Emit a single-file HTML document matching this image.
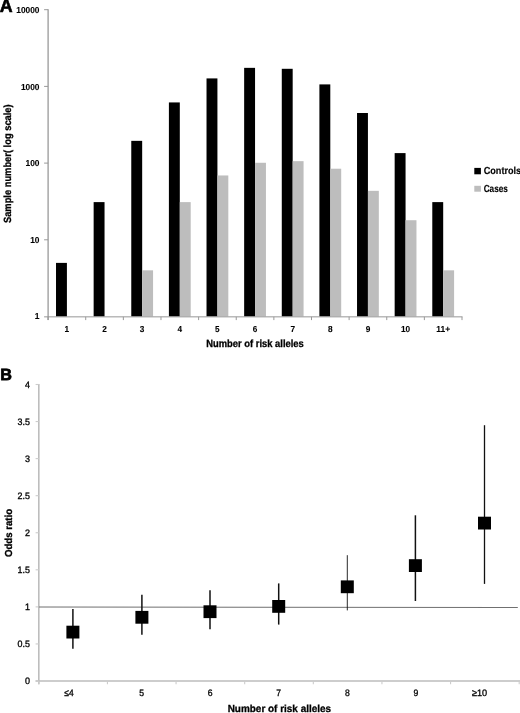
<!DOCTYPE html>
<html lang="en">
<head>
<meta charset="utf-8">
<title>Risk alleles figure</title>
<style>
html,body{margin:0;padding:0;background:#fff;}
body{width:520px;height:713px;overflow:hidden;}
svg{display:block;}
text{font-family:"Liberation Sans",Arial,sans-serif;fill:#000;text-rendering:geometricPrecision;}
.ta{font-size:8.7px;font-weight:bold;stroke:#000;stroke-width:0.1px;}
.tb{font-size:9.4px;stroke:#000;stroke-width:0.32px;}
.tt{font-size:10.4px;font-weight:bold;stroke:#000;stroke-width:0.3px;}
.tt2{font-size:10.2px;font-weight:bold;stroke:#000;stroke-width:0.3px;}
.tl{font-size:10.2px;font-weight:bold;stroke:#000;stroke-width:0.15px;}
.pl{font-size:16.5px;font-weight:bold;stroke:#000;stroke-width:0.9px;stroke-linejoin:round;}
</style>
</head>
<body>
<svg width="520" height="713" viewBox="0 0 520 713">
<rect x="0" y="0" width="520" height="713" fill="#fff"/>
<g id="panelA">
<rect x="56.01" y="262.89" width="10.90" height="53.61" fill="#000"/>
<rect x="93.64" y="202.11" width="10.90" height="114.39" fill="#000"/>
<rect x="131.27" y="140.85" width="10.90" height="175.65" fill="#000"/>
<rect x="142.17" y="270.32" width="10.90" height="46.18" fill="#bdbdbd"/>
<rect x="168.90" y="102.43" width="10.90" height="214.07" fill="#000"/>
<rect x="179.80" y="202.11" width="10.90" height="114.39" fill="#bdbdbd"/>
<rect x="206.52" y="78.41" width="10.90" height="238.09" fill="#000"/>
<rect x="217.42" y="175.46" width="10.90" height="141.04" fill="#bdbdbd"/>
<rect x="244.15" y="67.85" width="10.90" height="248.65" fill="#000"/>
<rect x="255.05" y="162.77" width="10.90" height="153.73" fill="#bdbdbd"/>
<rect x="281.78" y="68.80" width="10.90" height="247.70" fill="#000"/>
<rect x="292.68" y="161.16" width="10.90" height="155.34" fill="#bdbdbd"/>
<rect x="319.40" y="84.40" width="10.90" height="232.10" fill="#000"/>
<rect x="330.30" y="168.71" width="10.90" height="147.79" fill="#bdbdbd"/>
<rect x="357.03" y="113.00" width="10.90" height="203.50" fill="#000"/>
<rect x="367.93" y="190.83" width="10.90" height="125.67" fill="#bdbdbd"/>
<rect x="394.66" y="153.10" width="10.90" height="163.40" fill="#000"/>
<rect x="405.56" y="220.22" width="10.90" height="96.28" fill="#bdbdbd"/>
<rect x="432.29" y="202.11" width="10.90" height="114.39" fill="#000"/>
<rect x="443.19" y="270.32" width="10.90" height="46.18" fill="#bdbdbd"/>
<path d="M48.1 9.2 V320.1" stroke="#999" stroke-width="1.3" fill="none"/>
<path d="M44.1 316.85 H462.5" stroke="#969696" stroke-width="1.0" fill="none"/>
<path d="M44.1 239.80 H48.1" stroke="#999" stroke-width="1"/>
<path d="M44.1 163.10 H48.1" stroke="#999" stroke-width="1"/>
<path d="M44.1 86.40 H48.1" stroke="#999" stroke-width="1"/>
<path d="M44.1 9.70 H48.1" stroke="#999" stroke-width="1"/>
<path d="M48.10 316.8 V320.1" stroke="#999" stroke-width="1"/>
<path d="M85.73 316.8 V320.1" stroke="#999" stroke-width="1"/>
<path d="M123.35 316.8 V320.1" stroke="#999" stroke-width="1"/>
<path d="M160.98 316.8 V320.1" stroke="#999" stroke-width="1"/>
<path d="M198.61 316.8 V320.1" stroke="#999" stroke-width="1"/>
<path d="M236.24 316.8 V320.1" stroke="#999" stroke-width="1"/>
<path d="M273.86 316.8 V320.1" stroke="#999" stroke-width="1"/>
<path d="M311.49 316.8 V320.1" stroke="#999" stroke-width="1"/>
<path d="M349.12 316.8 V320.1" stroke="#999" stroke-width="1"/>
<path d="M386.75 316.8 V320.1" stroke="#999" stroke-width="1"/>
<path d="M424.37 316.8 V320.1" stroke="#999" stroke-width="1"/>
<path d="M462.00 316.8 V320.1" stroke="#999" stroke-width="1"/>
<text class="ta" x="39.5" y="319.25" text-anchor="end" textLength="4.7" lengthAdjust="spacingAndGlyphs">1</text>
<text class="ta" x="39.5" y="242.90" text-anchor="end" textLength="9.3" lengthAdjust="spacingAndGlyphs">10</text>
<text class="ta" x="39.5" y="166.20" text-anchor="end" textLength="14.0" lengthAdjust="spacingAndGlyphs">100</text>
<text class="ta" x="39.5" y="89.50" text-anchor="end" textLength="18.6" lengthAdjust="spacingAndGlyphs">1000</text>
<text class="ta" x="39.5" y="12.80" text-anchor="end" textLength="23.2" lengthAdjust="spacingAndGlyphs">10000</text>
<text class="ta" x="66.91" y="331.9" text-anchor="middle" textLength="4.6" lengthAdjust="spacingAndGlyphs">1</text>
<text class="ta" x="104.54" y="331.9" text-anchor="middle" textLength="4.6" lengthAdjust="spacingAndGlyphs">2</text>
<text class="ta" x="142.17" y="331.9" text-anchor="middle" textLength="4.6" lengthAdjust="spacingAndGlyphs">3</text>
<text class="ta" x="179.80" y="331.9" text-anchor="middle" textLength="4.6" lengthAdjust="spacingAndGlyphs">4</text>
<text class="ta" x="217.42" y="331.9" text-anchor="middle" textLength="4.6" lengthAdjust="spacingAndGlyphs">5</text>
<text class="ta" x="255.05" y="331.9" text-anchor="middle" textLength="4.6" lengthAdjust="spacingAndGlyphs">6</text>
<text class="ta" x="292.68" y="331.9" text-anchor="middle" textLength="4.6" lengthAdjust="spacingAndGlyphs">7</text>
<text class="ta" x="330.30" y="331.9" text-anchor="middle" textLength="4.6" lengthAdjust="spacingAndGlyphs">8</text>
<text class="ta" x="367.93" y="331.9" text-anchor="middle" textLength="4.6" lengthAdjust="spacingAndGlyphs">9</text>
<text class="ta" x="405.56" y="331.9" text-anchor="middle" textLength="9.2" lengthAdjust="spacingAndGlyphs">10</text>
<text class="ta" x="443.19" y="331.9" text-anchor="middle" textLength="13.8" lengthAdjust="spacingAndGlyphs">11+</text>
<text class="tt" x="255" y="347" text-anchor="middle" textLength="97.5" lengthAdjust="spacingAndGlyphs">Number of risk alleles</text>
<text class="tt" transform="translate(11.0 163.7) rotate(-90)" text-anchor="middle" textLength="118.7" lengthAdjust="spacingAndGlyphs">Sample number( log scale)</text>
<rect x="474.3" y="167.9" width="6.6" height="6.4" fill="#000"/>
<rect x="474.3" y="185.8" width="6.6" height="5.9" fill="#bdbdbd"/>
<text class="tl" x="483.7" y="174.2" textLength="37.5" lengthAdjust="spacingAndGlyphs">Controls</text>
<text class="tl" x="483.7" y="191.5" textLength="24.2" lengthAdjust="spacingAndGlyphs">Cases</text>
<text class="pl" x="-0.25" y="12.15" textLength="12.9" lengthAdjust="spacingAndGlyphs" style="font-size:18.5px;stroke-width:0.65px">A</text>
</g>
<g id="panelB">
<path d="M38.8 384.0 V684.2" stroke="#bdbdbd" stroke-width="1.6" fill="none"/>
<path d="M35.599999999999994 681.0 H520" stroke="#bdbdbd" stroke-width="1.6" fill="none"/>
<path d="M35.599999999999994 681.00 H38.8" stroke="#cccccc" stroke-width="1.1"/>
<text class="tb" x="30" y="684.45" text-anchor="end" textLength="5.0" lengthAdjust="spacingAndGlyphs">0</text>
<path d="M35.599999999999994 643.94 H38.8" stroke="#cccccc" stroke-width="1.1"/>
<text class="tb" x="30" y="647.39" text-anchor="end" textLength="12.4" lengthAdjust="spacingAndGlyphs">0.5</text>
<path d="M35.599999999999994 606.88 H38.8" stroke="#cccccc" stroke-width="1.1"/>
<text class="tb" x="30" y="610.33" text-anchor="end" textLength="5.0" lengthAdjust="spacingAndGlyphs">1</text>
<path d="M35.599999999999994 569.81 H38.8" stroke="#cccccc" stroke-width="1.1"/>
<text class="tb" x="30" y="573.26" text-anchor="end" textLength="12.4" lengthAdjust="spacingAndGlyphs">1.5</text>
<path d="M35.599999999999994 532.75 H38.8" stroke="#cccccc" stroke-width="1.1"/>
<text class="tb" x="30" y="536.20" text-anchor="end" textLength="5.0" lengthAdjust="spacingAndGlyphs">2</text>
<path d="M35.599999999999994 495.69 H38.8" stroke="#cccccc" stroke-width="1.1"/>
<text class="tb" x="30" y="499.14" text-anchor="end" textLength="12.4" lengthAdjust="spacingAndGlyphs">2.5</text>
<path d="M35.599999999999994 458.62 H38.8" stroke="#cccccc" stroke-width="1.1"/>
<text class="tb" x="30" y="462.07" text-anchor="end" textLength="5.0" lengthAdjust="spacingAndGlyphs">3</text>
<path d="M35.599999999999994 421.56 H38.8" stroke="#cccccc" stroke-width="1.1"/>
<text class="tb" x="30" y="425.01" text-anchor="end" textLength="12.4" lengthAdjust="spacingAndGlyphs">3.5</text>
<path d="M35.599999999999994 384.50 H38.8" stroke="#cccccc" stroke-width="1.1"/>
<text class="tb" x="30" y="387.95" text-anchor="end" textLength="5.0" lengthAdjust="spacingAndGlyphs">4</text>
<path d="M38.80 681.0 V684.2" stroke="#cccccc" stroke-width="1.1"/>
<path d="M107.43 681.0 V684.2" stroke="#cccccc" stroke-width="1.1"/>
<path d="M176.06 681.0 V684.2" stroke="#cccccc" stroke-width="1.1"/>
<path d="M244.69 681.0 V684.2" stroke="#cccccc" stroke-width="1.1"/>
<path d="M313.31 681.0 V684.2" stroke="#cccccc" stroke-width="1.1"/>
<path d="M381.94 681.0 V684.2" stroke="#cccccc" stroke-width="1.1"/>
<path d="M450.57 681.0 V684.2" stroke="#cccccc" stroke-width="1.1"/>
<path d="M519.20 681.0 V684.2" stroke="#cccccc" stroke-width="1.1"/>
<path d="M38.8 606.95 L517.8 607.45" stroke="#707070" stroke-width="1.05"/>
<path d="M72.9 609.1 V648.7" stroke="#111" stroke-width="1.5"/>
<rect x="66.40" y="625.70" width="13" height="12.8" fill="#000"/>
<path d="M141.9 594.8 V634.7" stroke="#111" stroke-width="1.5"/>
<rect x="135.40" y="610.90" width="13" height="12.8" fill="#000"/>
<path d="M210.0 590.2 V629.2" stroke="#111" stroke-width="1.5"/>
<rect x="203.50" y="605.30" width="13" height="12.8" fill="#000"/>
<path d="M278.7 583.4 V624.6" stroke="#111" stroke-width="1.5"/>
<rect x="272.20" y="600.00" width="13" height="12.8" fill="#000"/>
<path d="M347.3 555.2 V610.4" stroke="#111" stroke-width="0.9"/>
<rect x="340.80" y="580.40" width="13" height="12.8" fill="#000"/>
<path d="M415.4 515.3 V601.0" stroke="#111" stroke-width="1.5"/>
<rect x="408.90" y="559.20" width="13" height="12.8" fill="#000"/>
<path d="M484.5 425.2 V583.9" stroke="#111" stroke-width="1.3"/>
<rect x="478.00" y="516.70" width="13" height="12.8" fill="#000"/>
<text class="tb" x="69.0" y="696.45" text-anchor="middle" textLength="9.3" lengthAdjust="spacingAndGlyphs">≤4</text>
<text class="tb" x="141.7" y="696.45" text-anchor="middle" textLength="4.8" lengthAdjust="spacingAndGlyphs">5</text>
<text class="tb" x="210.2" y="696.45" text-anchor="middle" textLength="4.8" lengthAdjust="spacingAndGlyphs">6</text>
<text class="tb" x="278.6" y="696.45" text-anchor="middle" textLength="4.8" lengthAdjust="spacingAndGlyphs">7</text>
<text class="tb" x="347.3" y="696.45" text-anchor="middle" textLength="4.8" lengthAdjust="spacingAndGlyphs">8</text>
<text class="tb" x="416.0" y="696.45" text-anchor="middle" textLength="4.8" lengthAdjust="spacingAndGlyphs">9</text>
<text class="tb" x="479.6" y="696.45" text-anchor="middle" textLength="15.2" lengthAdjust="spacingAndGlyphs">≥10</text>
<text class="tt2" x="279.4" y="712.2" text-anchor="middle" textLength="103.4" lengthAdjust="spacingAndGlyphs">Number of risk alleles</text>
<text class="tt2" transform="translate(12.2 533) rotate(-90)" text-anchor="middle" textLength="48" lengthAdjust="spacingAndGlyphs">Odds ratio</text>
<text class="pl" x="0.25" y="379.9" style="font-size:16.2px;stroke-width:0.75px">B</text>
</g>
</svg>
</body>
</html>
